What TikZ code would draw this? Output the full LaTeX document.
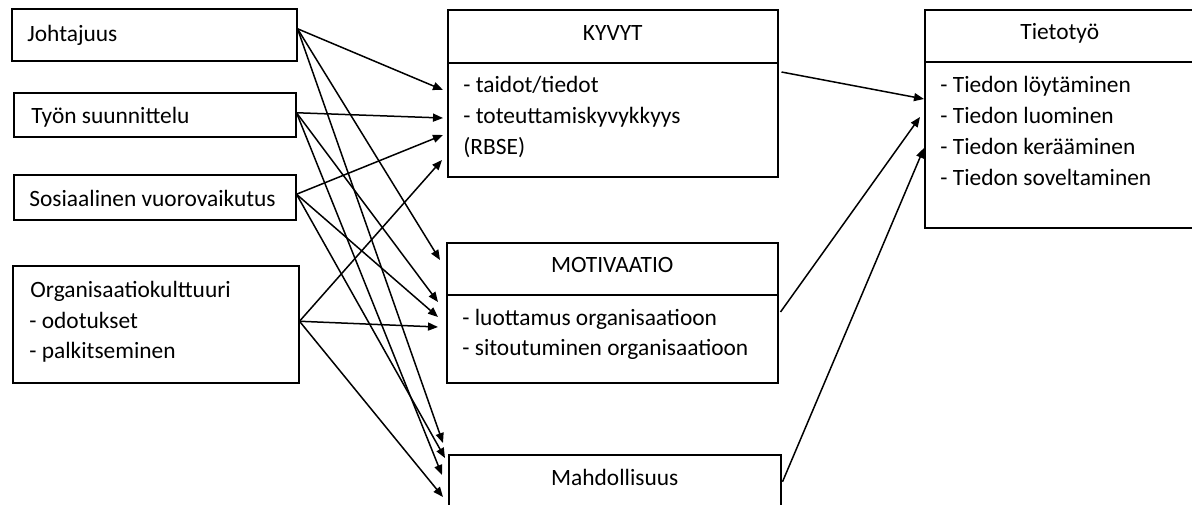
\documentclass[tikz,border=0pt]{standalone}
\usepackage{fontspec}
\setmainfont{Carlito}
\usetikzlibrary{arrows.meta}

\begin{document}
\begin{tikzpicture}[x=0.5pt, y=-0.5pt,
        font=\fontsize{11.7}{14}\selectfont,
        box/.style={draw, line width=0.75pt, anchor=north west, inner sep=0pt},
        head/.style={box, text height=8pt, text depth=4.25pt},
        txt/.style={anchor=base west, inner sep=0pt},
        link/.style={line width=0.75pt, -{Triangle[length=5pt, width=4pt]}}]

        \useasboundingbox (0,0) rectangle (1192,504);
        \clip (0,0) rectangle (1192,504);

        % Left boxes
        \node [box, minimum width=142.5pt, minimum height=26pt] (johtajuus) at (11,8) {};
        \node [txt] (johtajuust) at (27,41) {Johtajuus};

        \node [box, minimum width=141pt, minimum height=22pt] (tyo) at (13,92) {};
        \node [txt] (tyot) at (31,123) {Työn suunnittelu};

        \node [box, minimum width=141pt, minimum height=22.5pt] (sosiaalinen) at (13,174) {};
        \node [txt] (sosiaalinent) at (29,206) {Sosiaalinen vuorovaikutus};

        \node [box, minimum width=143pt, minimum height=58.5pt] (org) at (12,265) {};
        \node [txt] (org1) at (30,297) {Organisaatiokulttuuri};
        \node [txt] (org2) at (29,328) {- odotukset};
        \node [txt] (org3) at (29,358) {- palkitseminen};

        % Middle boxes
        \node [head, minimum width=165pt, minimum height=26.5pt] (kyvyt) at (447,9) {KYVYT};
        \node [box, minimum width=165pt, minimum height=57pt] (kyvytb) at (447,62) {};
        \node [txt] (kyvyt1) at (463,92) {- taidot/tiedot};
        \node [txt] (kyvyt2) at (463,123) {- toteuttamiskyvykkyys};
        \node [txt] (kyvyt3) at (463,154) {(RBSE)};

        \node [head, minimum width=165.5pt, minimum height=26pt] (motivaatio) at (446,242) {MOTIVAATIO};
        \node [box, minimum width=165.5pt, minimum height=44pt] (motivaatiob) at (446,294) {};
        \node [txt] (motivaatio1) at (462,325) {- luottamus organisaatioon};
        \node [txt] (motivaatio2) at (462,355) {- sitoutuminen organisaatioon};

        \node [head, minimum width=166pt, minimum height=27pt] (mahd) at (448,454) {Mahdollisuus};

        % Right box
        \node [head, minimum width=135pt, minimum height=26pt] (tietotyo) at (924,9) {Tietotyö};
        \node [box, minimum width=135pt, minimum height=83pt] (tietotyob) at (924,61) {};
        \node [txt] (tieto1) at (940,92) {- Tiedon löytäminen};
        \node [txt] (tieto2) at (940,123) {- Tiedon luominen};
        \node [txt] (tieto3) at (940,154) {- Tiedon kerääminen};
        \node [txt] (tieto4) at (940,185) {- Tiedon soveltaminen};

        % Arrows from the left
        \draw [link] ([yshift=3pt]johtajuus.east) -- ([shift={(-2pt,-14pt)}]kyvytb.north west);
        \draw [link] ([yshift=3pt]johtajuus.east) -- ([shift={(-3pt,-9pt)}]motivaatio.north west);
        \draw [link] ([yshift=3pt]johtajuus.east) -- ([shift={(-2.5pt,5.5pt)}]mahd.north west);

        \draw [link] ([yshift=1pt]tyo.east) -- ([shift={(-2pt,-28pt)}]kyvytb.north west);
        \draw [link] ([yshift=1pt]tyo.east) -- ([shift={(-4pt,-4pt)}]motivaatiob.north west);
        \draw [link] ([yshift=1pt]tyo.east) -- ([shift={(-3pt,-10.5pt)}]mahd.north west);

        \draw [link] ([yshift=1.5pt]sosiaalinen.east) -- ([shift={(-2pt,-36.5pt)}]kyvytb.north west);
        \draw [link] ([yshift=1.5pt]sosiaalinen.east) -- ([shift={(-4pt,-11.5pt)}]motivaatiob.north west);
        \draw [link] ([yshift=1.5pt]sosiaalinen.east) -- ([shift={(-1.5pt,-2pt)}]mahd.north west);

        \draw [link] ([yshift=1.5pt]org.east) -- ([shift={(-2.5pt,-49pt)}]kyvytb.north west);
        \draw [link] ([yshift=1.5pt]org.east) -- ([shift={(-4pt,-16.5pt)}]motivaatiob.north west);
        \draw [link] ([yshift=1.5pt]org.east) -- ([shift={(-2.5pt,-21.5pt)}]mahd.north west);

        % Arrows to Tietotyo
        \draw [link] ([shift={(1.5pt,-5pt)}]kyvytb.north east) -- ([yshift=-19pt]tietotyob.north west);
        \draw [link] ([shift={(1pt,-9pt)}]motivaatiob.north east) -- ([shift={(-2pt,-28pt)}]tietotyob.north west);
        \draw [link] ([xshift=0.5pt]mahd.east) -- ([yshift=-43.5pt]tietotyob.north west);

\end{tikzpicture}
\end{document}
